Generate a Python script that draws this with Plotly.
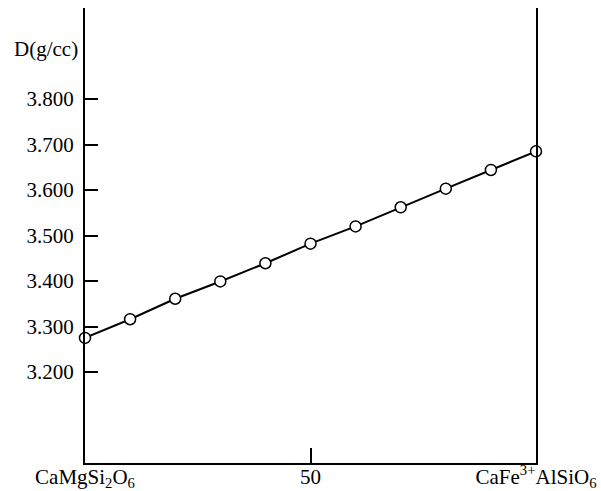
import plotly.graph_objects as go

# Composition (mol % CaFe3+AlSiO6) and density D (g/cc)
composition = [0, 10, 20, 30, 40, 50, 60, 70, 80, 90, 100]
density = [3.275, 3.316, 3.361, 3.399, 3.439, 3.482, 3.520, 3.562, 3.603, 3.644, 3.685]

x_tickvals = [0, 50, 100]
x_ticktext = ["CaMgSi<sub>2</sub>O<sub>6</sub>", "50", "CaFe<sup>3+</sup>AlSiO<sub>6</sub>"]
y_tickvals = [3.2, 3.3, 3.4, 3.5, 3.6, 3.7, 3.8]
y_ticktext = ["3.200", "3.300", "3.400", "3.500", "3.600", "3.700", "3.800"]
y_title = "D(g/cc)"

FONT = "Liberation Serif"

fig = go.Figure()
fig.add_trace(go.Scatter(
    x=composition, y=density, mode="lines+markers",
    line=dict(color="black", width=2),
    marker=dict(symbol="circle", size=11, color="white",
                line=dict(color="black", width=1.5)),
    cliponaxis=False, showlegend=False,
))

fig.update_layout(
    width=601, height=491,
    margin=dict(l=85, r=65, t=8, b=28, autoexpand=False),
    paper_bgcolor="white", plot_bgcolor="white",
    font=dict(family=FONT, color="black", size=20),
    xaxis=dict(
        range=[0, 100], tickvals=x_tickvals, ticktext=x_ticktext,
        ticks="inside", ticklen=15, tickwidth=1.5, tickcolor="black",
        showline=True, linecolor="black", linewidth=1.5,
        showgrid=False, zeroline=False, mirror=False, automargin=False,
        ticklabelstandoff=-6,
        tickfont=dict(family=FONT, size=21),
    ),
    yaxis=dict(
        range=[3.0, 4.0], tickvals=y_tickvals, ticktext=y_ticktext,
        ticks="inside", ticklen=13, tickwidth=1.5, tickcolor="black",
        showline=True, linecolor="black", linewidth=2,
        showgrid=False, zeroline=False, mirror=True, automargin=False,
        ticklabelstandoff=5,
        tickfont=dict(family=FONT, size=21),
    ),
    annotations=[dict(
        text=y_title, xref="paper", yref="y", x=0, y=3.91,
        xanchor="right", yanchor="middle", xshift=-5, showarrow=False,
        font=dict(family=FONT, size=21, color="black"),
    )],
)

fig.write_html("out.html", config={"displayModeBar": False},
               post_script="document.body.style.margin='0';")
